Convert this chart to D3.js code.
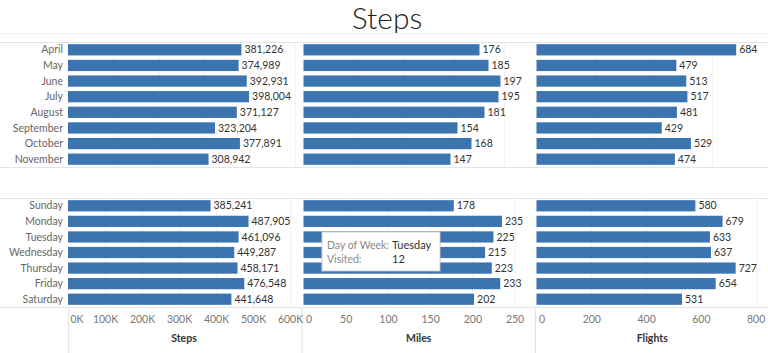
<!DOCTYPE html>
<html>
<head>
<meta charset="utf-8">
<script src="https://cdn.jsdelivr.net/npm/d3@7"></script>
<style>
  body { margin: 0; background: #fff; }
  text { font-family: Lato, "Open Sans", sans-serif; }
</style>
</head>
<body>
<div id="chart"></div>
<script>
// data
let months = ["April", "May", "June", "July", "August", "September", "October", "November"];
let monthSteps = [381226, 374989, 392931, 398004, 371127, 323204, 377891, 308942];
let monthMiles = [176, 185, 197, 195, 181, 154, 168, 147];
let monthFlights = [684, 479, 513, 517, 481, 429, 529, 474];

let days = ["Sunday", "Monday", "Tuesday", "Wednesday", "Thursday", "Friday", "Saturday"];
let daySteps = [385241, 487905, 461096, 449287, 458171, 476548, 441648];
let dayMiles = [178, 235, 225, 215, 223, 233, 202];
let dayFlights = [580, 679, 633, 637, 727, 654, 531];

let measures = ["Steps", "Miles", "Flights"];
let stepTicks = [0, 100000, 200000, 300000, 400000, 500000, 600000];
let mileTicks = [0, 50, 100, 150, 200, 250];
let flightTicks = [0, 200, 400, 600, 800];

let tooltipLabels = ["Day of Week:", "Visited:"];
let tooltipValues = ["Tuesday", "12"];

let width = 768,
  height = 353,
  barColor = "#3b74ae",
  lineColor = "#e4e4e4";

// column layout: [zero, right edge]
let cols = [[68, 300], [303.5, 534], [536.5, 768]];
// axis max per row (top rows have their own hidden axis)
let topMax = [510000, 230.5, 793];
let bottomMax = [627000, 273, 845];
let allTicks = [stepTicks, mileTicks, flightTicks];

let svg = d3.select("#chart")
  .append("svg")
  .attr("width", width)
  .attr("height", height);

svg.append("text")
  .attr("x", 387)
  .attr("y", 29)
  .attr("text-anchor", "middle")
  .style("font-size", "30px")
  .style("font-weight", 300)
  .attr("fill", "#222")
  .text("Steps");

svg.append("line")
  .attr("x1", 0).attr("x2", width)
  .attr("y1", 33.5).attr("y2", 33.5)
  .attr("stroke", "#f3f3f3");

let yTop = d3.scaleBand().domain(months).range([42, 167]).paddingInner(0.28).paddingOuter(0.14);
let yBottom = d3.scaleBand().domain(days).range([198, 307]).paddingInner(0.28).paddingOuter(0.14);

// row border lines
[42, 167, 198, 307].forEach(y => {
  svg.append("line")
    .attr("x1", 0).attr("x2", width)
    .attr("y1", y + 0.5).attr("y2", y + 0.5)
    .attr("stroke", lineColor);
});

// axis-area dividers
[68, 301.5, 535].forEach(x => {
  svg.append("line")
    .attr("x1", x + 0.5).attr("x2", x + 0.5)
    .attr("y1", 307).attr("y2", 353)
    .attr("stroke", lineColor);
});

function drawRow(yScale, cats, series, maxes, showAxis) {
  // row labels
  svg.append("g")
    .selectAll("text")
    .data(cats)
    .join("text")
    .attr("x", 63)
    .attr("y", d => yScale(d) + yScale.bandwidth() / 2)
    .attr("dy", "0.35em")
    .attr("text-anchor", "end")
    .attr("fill", "#666")
    .style("font-size", "10.5px")
    .text(d => d);

  series.forEach((vals, i) => {
    let x = d3.scaleLinear().domain([0, maxes[i]]).range(cols[i]);
    let g = svg.append("g");
    let rows = cats.map((c, j) => ({ cat: c, value: vals[j] }));

    // faint gridlines
    g.selectAll(".grid")
      .data(allTicks[i].filter(t => t > 0 && x(t) <= cols[i][1]))
      .join("line")
      .attr("class", "grid")
      .attr("x1", t => Math.round(x(t)) + 0.5)
      .attr("x2", t => Math.round(x(t)) + 0.5)
      .attr("y1", yScale.range()[0])
      .attr("y2", yScale.range()[1])
      .attr("stroke", "#f2f2f2");

    g.selectAll(".bar")
      .data(rows)
      .join("rect")
      .attr("class", "bar")
      .attr("x", x(0))
      .attr("y", d => yScale(d.cat))
      .attr("width", d => x(d.value) - x(0))
      .attr("height", yScale.bandwidth())
      .attr("fill", barColor);

    let fmt = i === 0 ? d3.format(",") : d3.format("d");
    g.selectAll(".val")
      .data(rows)
      .join("text")
      .attr("class", "val")
      .attr("x", d => x(d.value) + 3)
      .attr("y", d => yScale(d.cat) + yScale.bandwidth() / 2)
      .attr("dy", "0.35em")
      .attr("fill", "#333")
      .style("font-size", "10.5px")
      .text(d => fmt(d.value));

    if (showAxis) {
      let tickFmt = i === 0 ? (d => (d / 1000) + "K") : d3.format("d");
      let axis = svg.append("g")
        .attr("transform", "translate(0,307)")
        .call(d3.axisBottom(x).tickValues(allTicks[i]).tickSize(0).tickPadding(9).tickFormat(tickFmt));
      axis.select(".domain").remove();
      axis.selectAll("text")
        .style("font-size", "10.5px")
        .style("font-family", "Lato, sans-serif")
        .attr("fill", "#777");
      // first label sits right of the zero line
      axis.selectAll("text")
        .filter(d => d === 0)
        .attr("text-anchor", "start")
        .attr("x", 2);

      svg.append("text")
        .attr("x", (cols[i][0] + cols[i][1]) / 2)
        .attr("y", 342)
        .attr("text-anchor", "middle")
        .attr("fill", "#333")
        .style("font-size", "10.5px")
        .style("font-weight", 700)
        .text(measures[i]);
    }
  });
}

drawRow(yTop, months, [monthSteps, monthMiles, monthFlights], topMax, false);
drawRow(yBottom, days, [daySteps, dayMiles, dayFlights], bottomMax, true);

// tooltip
let tip = svg.append("g").attr("transform", "translate(322,232)");
tip.append("rect")
  .attr("x", 1).attr("y", 1)
  .attr("width", 118).attr("height", 39)
  .attr("fill", "rgba(0,0,0,0.12)");
tip.append("rect")
  .attr("width", 118).attr("height", 39)
  .attr("fill", "#fff")
  .attr("stroke", "#d0d0d0");
tooltipLabels.forEach((lab, i) => {
  tip.append("text")
    .attr("x", 5)
    .attr("y", 17 + i * 13.5)
    .attr("fill", "#888")
    .style("font-size", "10.5px")
    .text(lab);
  tip.append("text")
    .attr("x", 70)
    .attr("y", 17 + i * 13.5)
    .attr("fill", "#333")
    .style("font-size", "11px")
    .text(tooltipValues[i]);
});
</script>
</body>
</html>
